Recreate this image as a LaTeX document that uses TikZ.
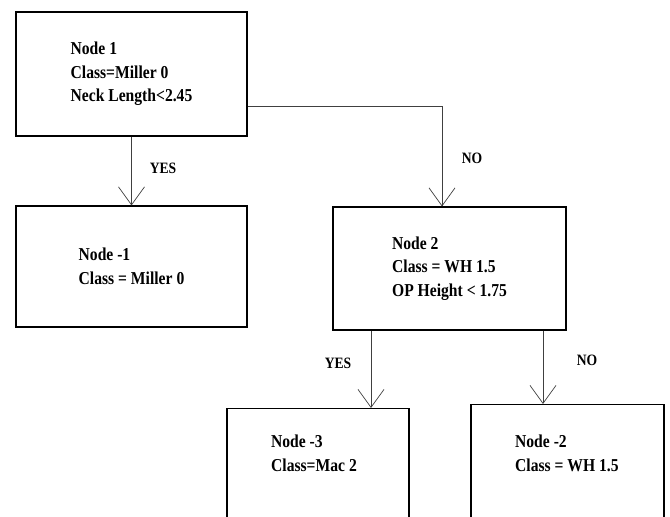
\documentclass[tikz,border=0pt]{standalone}
\usepackage{fontspec}
\setmainfont[FakeStretch=0.86]{Liberation Serif}
\usetikzlibrary{arrows.meta}

\begin{document}
\begin{tikzpicture}[x=0.3mm,y=-0.3mm,
  box/.style={draw,line width=0.9pt,align=left,inner sep=0pt},
  txt/.style={align=left,font=\fontsize{15.5}{20}\selectfont\bfseries},
  arr/.style={draw=black!75,line width=0.6pt,-{Straight Barb[length=5.4mm,width=7.8mm]}},
  lbl/.style={font=\fontsize{13.5}{15}\selectfont\bfseries}]

\useasboundingbox (0,0) rectangle (670,517);
\clip (0,0) rectangle (670,517);

% boxes
\node[box,txt,minimum width=69.3mm,minimum height=37.2mm] (n1) at (131.5,74)
  {Node 1\\Class=Miller 0\\Neck Length<2.45};
\node[box,txt,minimum width=69.3mm,minimum height=36.3mm] (nm1) at (131.5,266.5)
  {Node -1\\Class = Miller 0};
\node[box,txt,minimum width=69.9mm,minimum height=36.9mm] (n2) at (449.5,268.5)
  {Node 2\\Class = WH 1.5\\OP Height < 1.75};

% leaves (cut by the lower edge)
\node[box,anchor=north,minimum width=54.6mm,minimum height=42mm] (nm3) at (318,408) {};
\node[box,anchor=north,minimum width=57.9mm,minimum height=42mm] (nm2) at (567.5,404) {};
\node[txt,anchor=north west] (tm3) at (267,431) {Node -3\\Class=Mac 2};
\node[txt,anchor=north west] (tm2) at (511,431) {Node -2\\Class = WH 1.5};

% connectors
\coordinate (bend) at (442,106);
\coordinate (c3) at (371,0);
\coordinate (c2) at (543,0);
\draw[arr] (n1) -- (nm1);
\draw[arr] (n1.east |- bend) -| (bend |- n2.north);
\draw[arr] (c3 |- n2.south) -- (c3 |- nm3.north);
\draw[arr] (c2 |- n2.south) -- (c2 |- nm2.north);

% labels
\node[lbl] (yes1) at (163,168) {YES};
\node[lbl] (no1) at (472,158) {NO};
\node[lbl] (yes2) at (338,363) {YES};
\node[lbl] (no2) at (587,360) {NO};

\end{tikzpicture}
\end{document}
